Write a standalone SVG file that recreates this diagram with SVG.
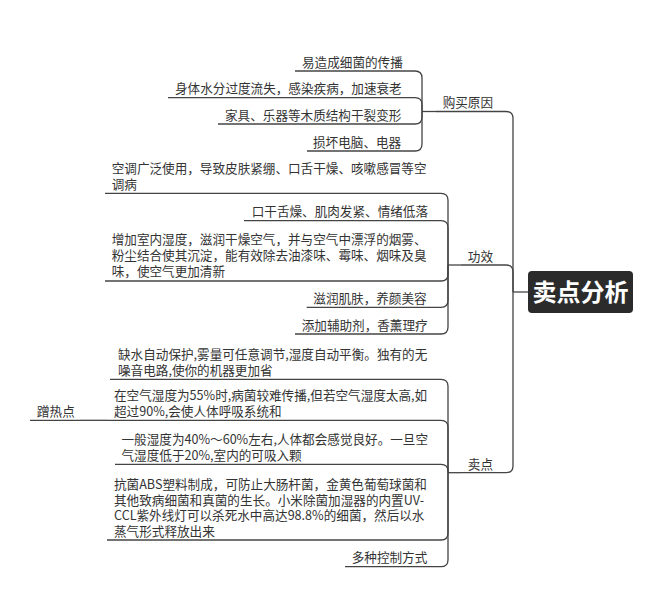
<svg xmlns="http://www.w3.org/2000/svg" width="658" height="600" viewBox="0 0 658 600">
<style>
.t{font-family:"Noto Sans CJK SC","Noto Sans",sans-serif;font-size:12.6px;fill:#333}
.b{font-family:"Noto Sans CJK SC","Noto Sans",sans-serif;font-size:12.6px;fill:#333;text-anchor:end}
.u{stroke:#444;stroke-width:1.3;fill:none}
.c{stroke:#444;stroke-width:1.3;fill:none}
.root{font-family:"Noto Sans CJK SC","Noto Sans",sans-serif;font-size:24px;font-weight:bold;fill:#fff;text-anchor:middle}
</style>
<rect width="658" height="600" fill="#fff"/>
<g id="connectors">
<path class="c" d="M528,292 H513"/>
<path class="c" d="M513,292 V118.5 Q513,111.5 506,111.5 H500"/>
<path class="c" d="M513,292 V272 Q513,265 506,265 H500"/>
<path class="c" d="M513,292 V465.7 Q513,472.7 506,472.7 H500"/>
<path class="c" d="M436,111.5 H422"/>
<path class="c" d="M422,111.5 V78 Q422,71 415,71 H410"/>
<path class="c" d="M422,111.5 V104.7 Q422,97.7 415,97.7 H410"/>
<path class="c" d="M422,111.5 V117 Q422,124 415,124 H410"/>
<path class="c" d="M422,111.5 V144 Q422,151 415,151 H410"/>
<path class="c" d="M461,265 H448"/>
<path class="c" d="M448,265 V200.3 Q448,193.3 441,193.3 H436"/>
<path class="c" d="M448,265 V227.7 Q448,220.7 441,220.7 H436"/>
<path class="c" d="M448,265 V274 Q448,281 441,281 H436"/>
<path class="c" d="M448,265 V300.3 Q448,307.3 441,307.3 H436"/>
<path class="c" d="M448,265 V327 Q448,334 441,334 H436"/>
<path class="c" d="M461,472.7 H448"/>
<path class="c" d="M448,472.7 V386.3 Q448,379.3 441,379.3 H436"/>
<path class="c" d="M448,472.7 V427.3 Q448,420.3 441,420.3 H436"/>
<path class="c" d="M448,472.7 V471.3 Q448,464.3 441,464.3 H436"/>
<path class="c" d="M448,472.7 V533 Q448,540 441,540 H436"/>
<path class="c" d="M448,472.7 V559.7 Q448,566.7 441,566.7 H436"/>
<path class="c" d="M107,420.3 H80"/>
</g>
<g id="root">
<rect x="528" y="271" width="105" height="42" rx="4" fill="#2b2b2b"/>
<text class="root" x="580.5" y="300.5">卖点分析</text>
</g>
<g id="b-reason">
<text class="b" x="493" y="107.2">购买原因</text>
<path class="u" d="M436,111.5 H500"/>
</g>
<g id="b-effect">
<text class="b" x="493" y="260.5">功效</text>
<path class="u" d="M461,265 H500"/>
</g>
<g id="b-sell">
<text class="b" x="493" y="468.5">卖点</text>
<path class="u" d="M461,472.7 H500"/>
</g>
<g id="r1"><text class="t" x="302" y="66.5">易造成细菌的传播</text><path class="u" d="M295,71 H410"/></g>
<g id="r2"><text class="t" x="175" y="93.2">身体水分过度流失，感染疾病，加速衰老</text><path class="u" d="M168,97.7 H410"/></g>
<g id="r3"><text class="t" x="225" y="119.5">家具、乐器等木质结构干裂变形</text><path class="u" d="M218,124 H410"/></g>
<g id="r4"><text class="t" x="313" y="146.5">损坏电脑、电器</text><path class="u" d="M307,151 H410"/></g>
<g id="e1"><text class="t" y="173"><tspan x="111.7">空调广泛使用，导致皮肤紧绷、口舌干燥、咳嗽感冒等空</tspan><tspan x="111.7" dy="15.8">调病</tspan></text><path class="u" d="M105,193.3 H436"/></g>
<g id="e2"><text class="t" x="251.7" y="216.2">口干舌燥、肌肉发紧、情绪低落</text><path class="u" d="M244,220.7 H436"/></g>
<g id="e3"><text class="t" y="244"><tspan x="111.7">增加室内湿度，滋润干燥空气，并与空气中漂浮的烟雾、</tspan><tspan x="111.7" dy="16.2">粉尘结合使其沉淀，能有效除去油漆味、霉味、烟味及臭</tspan><tspan x="111.7" dy="16.2">味，使空气更加清新</tspan></text><path class="u" d="M105,281 H436"/></g>
<g id="e4"><text class="t" x="313.3" y="302.8">滋润肌肤，养颜美容</text><path class="u" d="M306.7,307.3 H436"/></g>
<g id="e5"><text class="t" x="301.7" y="329.5">添加辅助剂，香薰理疗</text><path class="u" d="M295,334 H436"/></g>
<g id="s1"><text class="t" y="359.2"><tspan x="118">缺水自动保护,雾量可任意调节,湿度自动平衡。独有的无</tspan><tspan x="118" dy="15.6">噪音电路,使你的机器更加省</tspan></text><path class="u" d="M110,379.3 H436"/></g>
<g id="s2"><text class="t" y="400"><tspan x="114">在空气湿度为55%时,病菌较难传播,但若空气湿度太高,如</tspan><tspan x="114" dy="15.5">超过90%,会使人体呼吸系统和</tspan></text><path class="u" d="M107,420.3 H436"/></g>
<g id="hot"><text class="t" x="37" y="415.5">蹭热点</text><path class="u" d="M30,420.3 H80"/></g>
<g id="s3"><text class="t" y="444"><tspan x="121.5">一般湿度为40%～60%左右,人体都会感觉良好。一旦空</tspan><tspan x="121.5" dy="15.8">气湿度低于20%,室内的可吸入颗</tspan></text><path class="u" d="M115,464.3 H436"/></g>
<g id="s4"><text class="t" y="489"><tspan x="114">抗菌ABS塑料制成，可防止大肠杆菌，金黄色葡萄球菌和</tspan><tspan x="114" dy="15.5">其他致病细菌和真菌的生长。小米除菌加湿器的内置UV-</tspan><tspan x="114" dy="15.5">CCL紫外线灯可以杀死水中高达98.8%的细菌，然后以水</tspan><tspan x="114" dy="15.5">蒸气形式释放出来</tspan></text><path class="u" d="M107,540 H436"/></g>
<g id="s5"><text class="t" x="351.7" y="562.2">多种控制方式</text><path class="u" d="M345,566.7 H436"/></g>
</svg>
